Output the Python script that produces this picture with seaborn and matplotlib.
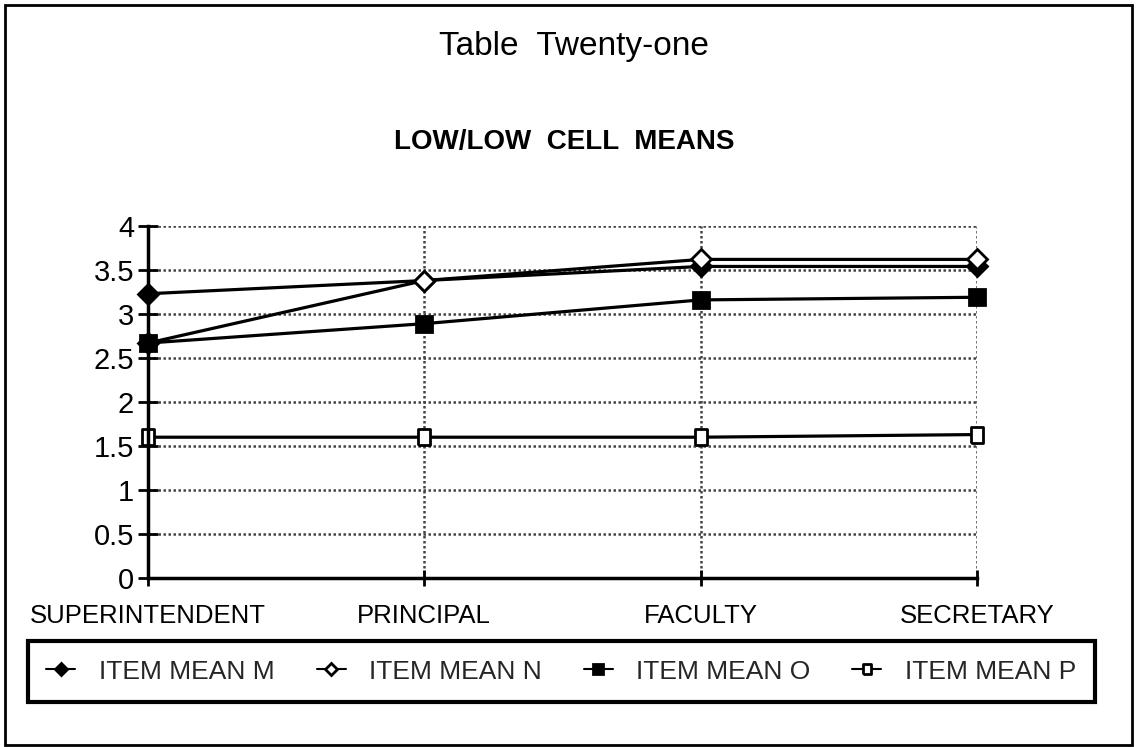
import matplotlib
matplotlib.use("Agg")
import matplotlib.pyplot as plt
import seaborn as sns
import pandas as pd
from matplotlib.patches import Rectangle

categories = ["SUPERINTENDENT", "PRINCIPAL", "FACULTY", "SECRETARY"]
item_mean_m = [3.23, 3.38, 3.54, 3.54]
item_mean_n = [2.67, 3.38, 3.62, 3.62]
item_mean_o = [2.67, 2.89, 3.16, 3.19]
item_mean_p = [1.60, 1.60, 1.60, 1.63]
series_names = ["ITEM MEAN M", "ITEM MEAN N", "ITEM MEAN O", "ITEM MEAN P"]
y_ticks = [0, 0.5, 1, 1.5, 2, 2.5, 3, 3.5, 4]
y_tick_labels = ["0", "0.5", "1", "1.5", "2", "2.5", "3", "3.5", "4"]

sns.set_theme(style="white")
plt.rcParams['font.family'] = ['Liberation Sans', 'DejaVu Sans']

fig = plt.figure(figsize=(11.38, 7.47), dpi=100)
ax = fig.add_axes([0.130, 0.2262, 0.7285, 0.4713])

rect_marker = [(-0.75, -1), (0.75, -1), (0.75, 1), (-0.75, 1), (-0.75, -1)]
values = [item_mean_m, item_mean_n, item_mean_o, item_mean_p]
markers = ["D", "D", "s", rect_marker]
faces = ["black", "white", "black", "white"]
msizes = [10, 10, 12, 11]
for name, vals, mk, fc, ms in zip(series_names, values, markers, faces, msizes):
    df = pd.DataFrame({"x": list(range(len(categories))), "y": vals})
    sns.lineplot(data=df, x="x", y="y", ax=ax, color="black", lw=2.3,
                 marker=mk, markersize=ms, markerfacecolor=fc,
                 markeredgecolor="black", markeredgewidth=2, label=name,
                 zorder=3, clip_on=False)

ax.set_xlim(0, len(categories) - 1)
ax.set_ylim(0, 4)
ax.set_xticks(range(len(categories)))
ax.set_xticklabels(categories, fontsize=18.5)
ax.set_yticks(y_ticks)
ax.set_yticklabels(y_tick_labels, fontsize=21)
ax.set_xlabel("")
ax.set_ylabel("")
ax.tick_params(axis="x", pad=13, direction="inout", length=12, width=2, bottom=True, colors="black")
ax.tick_params(axis="y", pad=3, direction="inout", length=14, width=2, left=True, colors="black")
for lab in ax.get_xticklabels() + ax.get_yticklabels():
    lab.set_color("black")

ax.grid(True, color="#444444", linestyle=(0, (1, 1)), linewidth=1.8)
for s in ["top", "right"]:
    ax.spines[s].set_visible(False)
for s in ["left", "bottom"]:
    ax.spines[s].set_color("black")
    ax.spines[s].set_linewidth(2.5)
    ax.spines[s].set_zorder(4)

ax.legend_.remove()
handles, labels = ax.get_legend_handles_labels()
leg = fig.legend(handles, labels, loc="lower left",
                 bbox_to_anchor=(0.0246, 0.0602, 0.9375, 0.0897), mode="expand",
                 ncol=4, fontsize=19, frameon=True, fancybox=False, framealpha=1,
                 handlelength=1.1, handletextpad=0.9, borderaxespad=0,
                 borderpad=0.7, markerscale=0.65)
leg.get_frame().set_edgecolor("black")
leg.get_frame().set_linewidth(3)
for h in leg.get_lines():
    h.set_linewidth(1.5)

fig.text(0.504, 0.926, "Table  Twenty-one", ha="center", va="baseline", fontsize=24,
         color="black")
fig.text(0.496, 0.800, "LOW/LOW  CELL  MEANS", ha="center", va="baseline", fontsize=20,
         fontweight="bold", color="black")

fig.patches.append(Rectangle((5 / 1138, 2 / 747), 1127 / 1138, 740 / 747,
                             transform=fig.transFigure,
                             fill=False, edgecolor="black", linewidth=2))

fig.savefig("out.png", dpi=100)
